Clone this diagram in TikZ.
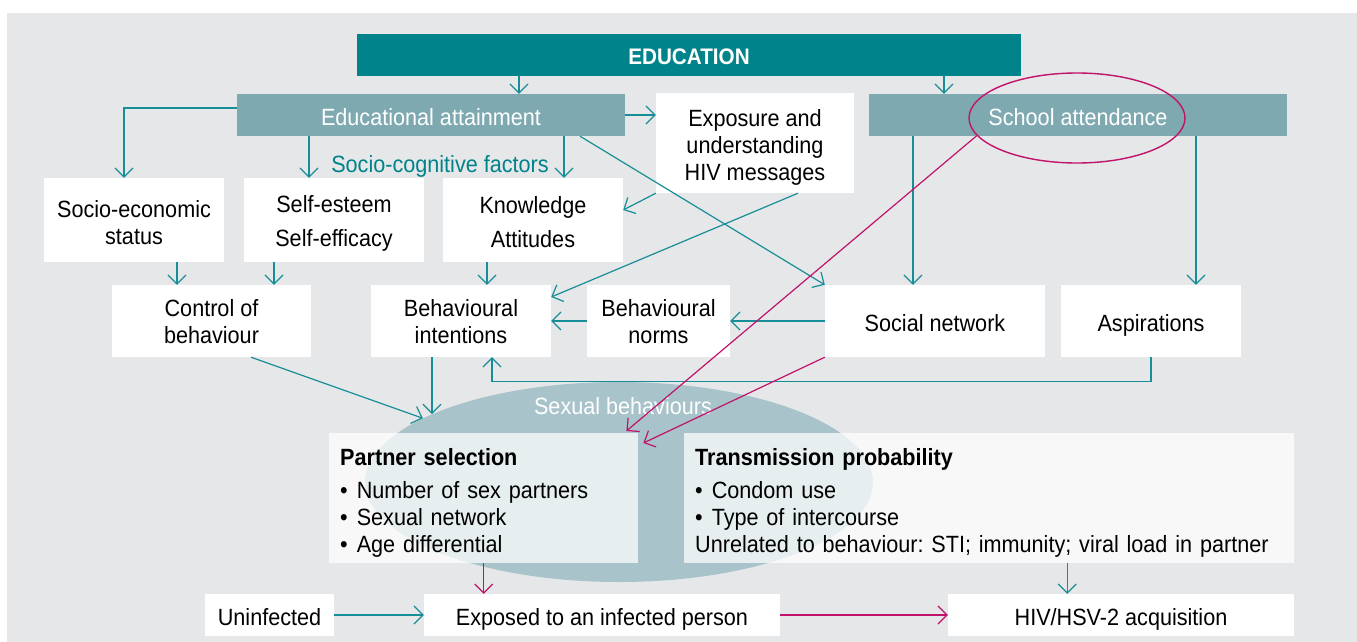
\documentclass[tikz,border=0pt]{standalone}
\usepackage{fontspec}
\setmainfont{Liberation Sans}[FakeStretch=0.92]
\usetikzlibrary{arrows.meta,shapes.geometric,calc}
\definecolor{eduteal}{HTML}{00838A}
\definecolor{edubar}{HTML}{7FA9B1}
\definecolor{eduline}{HTML}{178E97}
\definecolor{edumag}{HTML}{C0136B}
\definecolor{edubg}{HTML}{E6E7E8}
\definecolor{eduoval}{HTML}{A8C3CA}
\newcommand{\figfont}{\fontsize{23.5pt}{27pt}\selectfont\frenchspacing}
\newcommand{\blt}{•\hspace{9pt}}

\tikzset{
  box/.style={fill=white, align=center, inner sep=0pt, font=\figfont},
  oneline/.style={text height=20pt, text depth=0pt},
  bar/.style={fill=edubar, text=white, inner sep=0pt, minimum height=42pt, font=\figfont, oneline},
  panel/.style={fill=white, fill opacity=0.72, text opacity=1, align=left,
    inner xsep=11pt, inner ysep=0pt, minimum height=130pt, anchor=north west, font=\figfont},
  tarr/.style={draw=eduline, line width=1.2pt, -{Straight Barb[length=9pt,width=18pt]}},
  marr/.style={draw=edumag, line width=1.2pt, -{Straight Barb[length=9pt,width=18pt]}},
}

\begin{document}
\begin{tikzpicture}[x=1pt, y=-1pt]
  \useasboundingbox (0,0) rectangle (1357,642);
  \fill[edubg] (7,13) rectangle (1357,642);

  \node[fill=eduteal, text=white, inner sep=0pt, minimum width=664pt, minimum height=42pt, oneline,
    font=\fontsize{22.5pt}{27pt}\selectfont\bfseries] (edu) at (689,55) {EDUCATION};
  \node[bar, minimum width=388pt] (ea) at (431,115) {Educational attainment};
  \node[bar, minimum width=418pt] (sa) at (1078,115) {School attendance};
  \node[ellipse, draw=edumag, line width=1.4pt, inner sep=0pt,
    minimum width=216pt, minimum height=90pt] (ring) at (1077,118) {};

  \node[box, minimum width=198pt, minimum height=100pt] (exp) at (755,143)
    {\rule{0pt}{25pt}Exposure and\\understanding\\HIV messages};
  \node[font=\figfont, text=eduteal, oneline] (scf) at (440,162) {Socio-cognitive factors};

  \node[box, minimum width=180pt, minimum height=84pt] (ses) at (134,220) {\rule{0pt}{22pt}Socio-economic\\status};
  \node[box, minimum width=180pt, minimum height=84pt] (self) at (334,220) {\rule{0pt}{23pt}Self-esteem\\[7pt]Self-efficacy};
  \node[box, minimum width=180pt, minimum height=84pt] (know) at (533,220) {\rule{0pt}{22pt}Knowledge\\[7pt]Attitudes};

  \node[box, minimum width=199pt, minimum height=72pt] (ctrl) at (211.5,321) {\rule{0pt}{19pt}Control of\\behaviour};
  \node[box, minimum width=180pt, minimum height=72pt] (bi) at (461,321) {\rule{0pt}{19pt}Behavioural\\intentions};
  \node[box, minimum width=143pt, minimum height=72pt] (bn) at (658.5,321) {\rule{0pt}{19pt}Behavioural\\norms};
  \node[box, oneline, minimum width=220pt, minimum height=72pt] (sn) at (935,321) {Social network};
  \node[box, oneline, minimum width=180pt, minimum height=72pt] (asp) at (1151,321) {Aspirations};

  \node[ellipse, fill=eduoval, inner sep=0pt, minimum width=508pt, minimum height=200pt] (sb) at (619,482) {};
  \node[font=\figfont, text=white, oneline] (sbt) at (623,404) {Sexual behaviours};

  \node[panel, text width=287pt] (ps) at (329,433)
    {\rule{0pt}{27pt}\textbf{Partner selection}\\[6pt]\blt Number of sex partners\\\blt Sexual network\\\blt Age differential};
  \node[panel, text width=588pt] (tp) at (684,433)
    {\rule{0pt}{27pt}\textbf{Transmission probability}\\[6pt]\blt Condom use\\\blt Type of intercourse\\Unrelated to behaviour: STI; immunity; viral load in partner};

  \node[box, oneline, minimum width=129pt, minimum height=42pt] (un) at (269.5,615) {Uninfected};
  \node[box, oneline, minimum width=356pt, minimum height=42pt] (exd) at (602,615) {Exposed to an infected person};
  \node[box, oneline, minimum width=346pt, minimum height=42pt] (hiv) at (1121,615) {HIV/HSV-2 acquisition};

  \draw[tarr] ([xshift=88pt]ea.north |- edu.south) -- ([xshift=88pt]ea.north);
  \draw[tarr] ([xshift=-134pt]sa.north |- edu.south) -- ([xshift=-134pt]sa.north);
  \draw[tarr] ([yshift=7pt]ea.west) -| ([xshift=-10pt]ses.north);
  \draw[tarr] ([xshift=-25pt]self.north |- ea.south) -- ([xshift=-25pt]self.north);
  \draw[tarr] ([xshift=31pt]know.north |- ea.south) -- ([xshift=31pt]know.north);
  \draw[tarr] (ea.east) -- (ea.east -| exp.west);
  \draw[tarr] ([xshift=149pt]ea.south) -- (sn.north west);
  \draw[tarr] (exp.south west) -- ([yshift=10pt]know.east);
  \draw[tarr] ([xshift=43pt]exp.south) -- ([yshift=24pt]bi.east);
  \draw[tarr] ([xshift=-34.5pt]ctrl.north |- ses.south) -- ([xshift=-34.5pt]ctrl.north);
  \draw[tarr] ([xshift=62.5pt]ctrl.north |- self.south) -- ([xshift=62.5pt]ctrl.north);
  \draw[tarr] ([xshift=26pt]bi.north |- know.south) -- ([xshift=26pt]bi.north);
  \draw[tarr] (bn.west) -- (bi.east);
  \draw[tarr] (sn.west) -- (bn.east);
  \draw[tarr] ([xshift=-22pt]sn.north |- sa.south) -- ([xshift=-22pt]sn.north);
  \draw[tarr] ([xshift=45pt]asp.north |- sa.south) -- ([xshift=45pt]asp.north);
  \draw[tarr] (asp.south) -- ++(0,24) -| ([xshift=31pt]bi.south);
  \draw[tarr] ([xshift=39.5pt]ctrl.south) -- (sb.162);
  \draw[tarr] ([xshift=-29pt]bi.south) -- ([xshift=-29pt]bi.south |- sb.160);
  \draw[tarr] (un.east) -- (exd.west);
  \draw[tarr] ([xshift=78pt]tp.south) -- ([xshift=78pt]tp.south |- hiv.north);

  \draw[marr] (ring.190) -- ([xshift=-12pt,yshift=2pt]ps.north east);
  \draw[marr] (sn.south west) -- ([xshift=5pt,yshift=-10pt]ps.north east);
  \draw[marr] (ps.south) -- (ps.south |- exd.north);
  \draw[marr] (exd.east) -- (hiv.west);
\end{tikzpicture}
\end{document}
